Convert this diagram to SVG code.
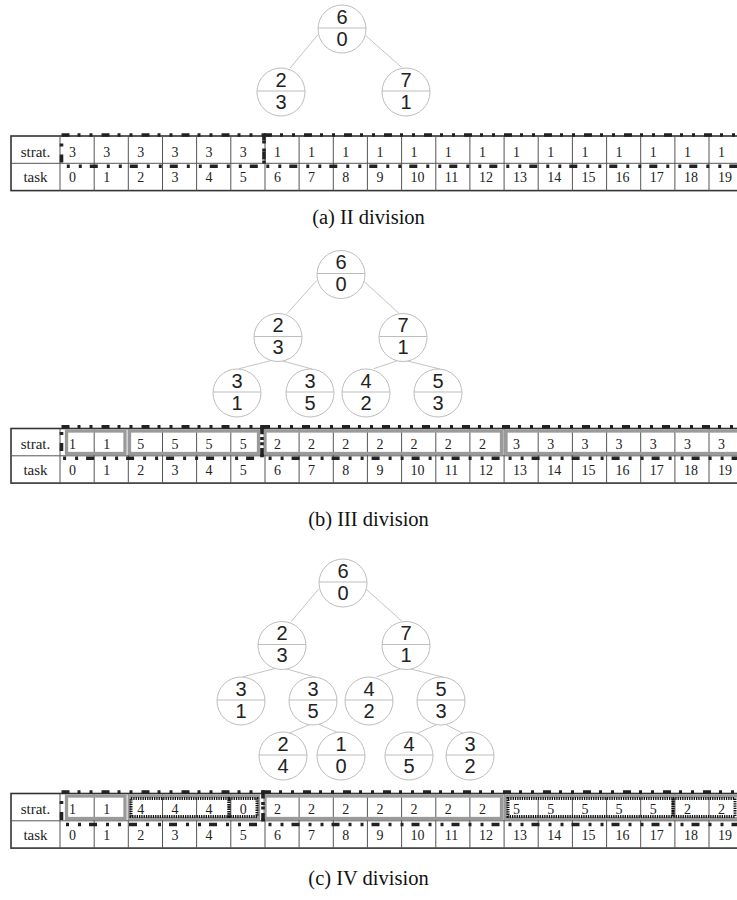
<svg xmlns="http://www.w3.org/2000/svg" xmlns:xlink="http://www.w3.org/1999/xlink" width="737" height="900" viewBox="0 0 737 900">
<style>
.nd circle{fill:#fff;stroke:#bdbdbd;stroke-width:1}
.nd line{stroke:#bdbdbd;stroke-width:1}
.nd text{font-family:"Liberation Sans",Arial,sans-serif;font-size:20px;fill:#222;text-anchor:middle}
.edges line{stroke:#c4c4c4;stroke-width:1}
.tb{fill:#fff;stroke:#333;stroke-width:1.6}
.tl{fill:none;stroke:#555;stroke-width:1}
.lb{font-family:"Liberation Serif","Times New Roman",serif;font-size:15px;fill:#222;text-anchor:middle}
.nm{font-family:"Liberation Serif","Times New Roman",serif;font-size:14px;fill:#222}
.g1{fill:none;stroke:#222;stroke-width:3.6;stroke-dasharray:8 8 3 9 3 9}
.g2{fill:none;stroke:#9a9a9a;stroke-width:3.3}
.g3{fill:none;stroke:#111;stroke-width:3;stroke-dasharray:1.3 1}
.cap{font-family:"Liberation Serif","Times New Roman",serif;font-size:20.5px;fill:#111;text-anchor:middle}
</style>
<defs>
<g id="grid">
<rect class="tb" x="11" y="0" width="732.2" height="54.6"/>
<path class="tl" d="M11 27.3H743.2M60 0V54.6M94.2 0V54.6M128.3 0V54.6M162.5 0V54.6M196.6 0V54.6M230.8 0V54.6M265 0V54.6M299.1 0V54.6M333.3 0V54.6M367.4 0V54.6M401.6 0V54.6M435.8 0V54.6M469.9 0V54.6M504.1 0V54.6M538.2 0V54.6M572.4 0V54.6M606.6 0V54.6M640.7 0V54.6M674.9 0V54.6M709 0V54.6"/>
<text class="lb" x="35.5" y="20.5">strat.</text>
<text class="lb" x="35.5" y="46.3">task</text>
<g class="nm">
<text x="69" y="46.3">0</text><text x="103.2" y="46.3">1</text><text x="137.3" y="46.3">2</text><text x="171.5" y="46.3">3</text><text x="205.6" y="46.3">4</text><text x="239.8" y="46.3">5</text><text x="274" y="46.3">6</text><text x="308.1" y="46.3">7</text><text x="342.3" y="46.3">8</text><text x="376.4" y="46.3">9</text><text x="410.6" y="46.3">10</text><text x="444.8" y="46.3">11</text><text x="478.9" y="46.3">12</text><text x="513.1" y="46.3">13</text><text x="547.2" y="46.3">14</text><text x="581.4" y="46.3">15</text><text x="615.6" y="46.3">16</text><text x="649.7" y="46.3">17</text><text x="683.9" y="46.3">18</text><text x="718" y="46.3">19</text>
</g>
</g>
</defs>

<!-- ===== (a) ===== -->
<g id="edges-a" class="edges">
<line x1="317.7" y1="35" x2="290" y2="68.2"/>
<line x1="365.3" y1="35.3" x2="401.7" y2="67.5"/>
</g>
<g id="a-n60" class="nd" transform="translate(342,29)"><circle r="24"/><line x1="-24" y1="-1" x2="24" y2="-1"/><text y="-5.5">6</text><text y="16.5">0</text></g>
<g id="a-n23" class="nd" transform="translate(281,92)"><circle r="24"/><line x1="-24" y1="-1" x2="24" y2="-1"/><text y="-5.5">2</text><text y="16.5">3</text></g>
<g id="a-n71" class="nd" transform="translate(406,92)"><circle r="24"/><line x1="-24" y1="-1" x2="24" y2="-1"/><text y="-5.5">7</text><text y="16.5">1</text></g>

<g id="table-a">
<use xlink:href="#grid" href="#grid" transform="translate(0,136)"/>
<rect class="g1" x="61.5" y="135" width="202.5" height="31.3"/>
<rect class="g1" x="264" y="135" width="481" height="31.3"/>
<g class="nm">
<text x="69" y="156.5">3</text><text x="103.2" y="156.5">3</text><text x="137.3" y="156.5">3</text><text x="171.5" y="156.5">3</text><text x="205.6" y="156.5">3</text><text x="239.8" y="156.5">3</text><text x="274" y="156.5">1</text><text x="308.1" y="156.5">1</text><text x="342.3" y="156.5">1</text><text x="376.4" y="156.5">1</text><text x="410.6" y="156.5">1</text><text x="444.8" y="156.5">1</text><text x="478.9" y="156.5">1</text><text x="513.1" y="156.5">1</text><text x="547.2" y="156.5">1</text><text x="581.4" y="156.5">1</text><text x="615.6" y="156.5">1</text><text x="649.7" y="156.5">1</text><text x="683.9" y="156.5">1</text><text x="718" y="156.5">1</text>
</g>
</g>
<text class="cap" x="368.5" y="224">(a)  II division</text>

<!-- ===== (b) ===== -->
<g id="edges-b" class="edges">
<line x1="316.7" y1="280.5" x2="287" y2="313.7"/>
<line x1="363.3" y1="280.8" x2="398.7" y2="313"/>
<line x1="272" y1="360.3" x2="239" y2="368.7"/>
<line x1="280" y1="360.3" x2="312" y2="369"/>
<line x1="398.7" y1="360.3" x2="373.7" y2="368.7"/>
<line x1="404.7" y1="360.3" x2="440" y2="369"/>
</g>
<g id="b-n60" class="nd" transform="translate(341,274.5)"><circle r="24"/><line x1="-24" y1="-1" x2="24" y2="-1"/><text y="-5.5">6</text><text y="16.5">0</text></g>
<g id="b-n23" class="nd" transform="translate(278,337.5)"><circle r="24"/><line x1="-24" y1="-1" x2="24" y2="-1"/><text y="-5.5">2</text><text y="16.5">3</text></g>
<g id="b-n71" class="nd" transform="translate(403,337.5)"><circle r="24"/><line x1="-24" y1="-1" x2="24" y2="-1"/><text y="-5.5">7</text><text y="16.5">1</text></g>
<g id="b-n31" class="nd" transform="translate(237,393)"><circle r="24"/><line x1="-24" y1="-1" x2="24" y2="-1"/><text y="-5.5">3</text><text y="16.5">1</text></g>
<g id="b-n35" class="nd" transform="translate(310,393)"><circle r="24"/><line x1="-24" y1="-1" x2="24" y2="-1"/><text y="-5.5">3</text><text y="16.5">5</text></g>
<g id="b-n42" class="nd" transform="translate(366,393)"><circle r="24"/><line x1="-24" y1="-1" x2="24" y2="-1"/><text y="-5.5">4</text><text y="16.5">2</text></g>
<g id="b-n53" class="nd" transform="translate(438,393)"><circle r="24"/><line x1="-24" y1="-1" x2="24" y2="-1"/><text y="-5.5">5</text><text y="16.5">3</text></g>

<g id="table-b">
<use xlink:href="#grid" href="#grid" transform="translate(0,428.5)"/>
<rect class="g2" x="66.5" y="431" width="58.5" height="22.5"/>
<rect class="g2" x="129.5" y="431" width="129" height="22.5"/>
<rect class="g2" x="265" y="431" width="236.5" height="22.5"/>
<rect class="g2" x="506" y="431" width="239" height="22.5"/>
<rect class="g1" x="61.5" y="426.7" width="200.5" height="31.6"/>
<rect class="g1" x="262" y="426.7" width="483" height="31.6"/>
<g class="nm">
<text x="69" y="449">1</text><text x="103.2" y="449">1</text><text x="137.3" y="449">5</text><text x="171.5" y="449">5</text><text x="205.6" y="449">5</text><text x="239.8" y="449">5</text><text x="274" y="449">2</text><text x="308.1" y="449">2</text><text x="342.3" y="449">2</text><text x="376.4" y="449">2</text><text x="410.6" y="449">2</text><text x="444.8" y="449">2</text><text x="478.9" y="449">2</text><text x="513.1" y="449">3</text><text x="547.2" y="449">3</text><text x="581.4" y="449">3</text><text x="615.6" y="449">3</text><text x="649.7" y="449">3</text><text x="683.9" y="449">3</text><text x="718" y="449">3</text>
</g>
</g>
<text class="cap" x="368.5" y="526">(b)  III division</text>

<!-- ===== (c) ===== -->
<g id="edges-c" class="edges">
<line x1="318.7" y1="589" x2="291" y2="621.7"/>
<line x1="366.3" y1="589.3" x2="401.7" y2="621"/>
<line x1="276" y1="668.3" x2="243" y2="676.7"/>
<line x1="284" y1="668.3" x2="315" y2="677"/>
<line x1="401.7" y1="668.3" x2="376.7" y2="676.7"/>
<line x1="407.7" y1="668.3" x2="443" y2="677"/>
<line x1="311" y1="724" x2="287" y2="734"/>
<line x1="318" y1="724" x2="341" y2="734"/>
<line x1="438" y1="724" x2="415.7" y2="734"/>
<line x1="445" y1="724" x2="464" y2="734"/>
</g>
<g id="c-n60" class="nd" transform="translate(343,583)"><circle r="24"/><line x1="-24" y1="-1" x2="24" y2="-1"/><text y="-5.5">6</text><text y="16.5">0</text></g>
<g id="c-n23" class="nd" transform="translate(282,645.5)"><circle r="24"/><line x1="-24" y1="-1" x2="24" y2="-1"/><text y="-5.5">2</text><text y="16.5">3</text></g>
<g id="c-n71" class="nd" transform="translate(406,645.5)"><circle r="24"/><line x1="-24" y1="-1" x2="24" y2="-1"/><text y="-5.5">7</text><text y="16.5">1</text></g>
<g id="c-n31" class="nd" transform="translate(241,701)"><circle r="24"/><line x1="-24" y1="-1" x2="24" y2="-1"/><text y="-5.5">3</text><text y="16.5">1</text></g>
<g id="c-n35" class="nd" transform="translate(313,701)"><circle r="24"/><line x1="-24" y1="-1" x2="24" y2="-1"/><text y="-5.5">3</text><text y="16.5">5</text></g>
<g id="c-n42" class="nd" transform="translate(369,701)"><circle r="24"/><line x1="-24" y1="-1" x2="24" y2="-1"/><text y="-5.5">4</text><text y="16.5">2</text></g>
<g id="c-n53" class="nd" transform="translate(441,701)"><circle r="24"/><line x1="-24" y1="-1" x2="24" y2="-1"/><text y="-5.5">5</text><text y="16.5">3</text></g>
<g id="c-n24" class="nd" transform="translate(283,756)"><circle r="24"/><line x1="-24" y1="-1" x2="24" y2="-1"/><text y="-5.5">2</text><text y="16.5">4</text></g>
<g id="c-n10" class="nd" transform="translate(341,756)"><circle r="24"/><line x1="-24" y1="-1" x2="24" y2="-1"/><text y="-5.5">1</text><text y="16.5">0</text></g>
<g id="c-n45" class="nd" transform="translate(409,756)"><circle r="24"/><line x1="-24" y1="-1" x2="24" y2="-1"/><text y="-5.5">4</text><text y="16.5">5</text></g>
<g id="c-n32" class="nd" transform="translate(470,756)"><circle r="24"/><line x1="-24" y1="-1" x2="24" y2="-1"/><text y="-5.5">3</text><text y="16.5">2</text></g>

<g id="table-c">
<use xlink:href="#grid" href="#grid" transform="translate(0,793.5)"/>
<rect class="g2" x="66.5" y="796" width="58.5" height="22.5"/>
<rect class="g2" x="129.5" y="796" width="129" height="22.5"/>
<rect class="g2" x="265" y="796" width="236.5" height="22.5"/>
<rect class="g2" x="506" y="796" width="239" height="22.5"/>
<rect class="g3" x="131" y="798.5" width="98" height="18"/>
<rect class="g3" x="229" y="798.5" width="28" height="18"/>
<rect class="g3" x="508" y="798.5" width="165" height="18"/>
<rect class="g3" x="673" y="798.5" width="62" height="18"/>
<rect class="g1" x="61.5" y="792" width="201.5" height="32.5"/>
<rect class="g1" x="263" y="792" width="482" height="32.5"/>
<g class="nm">
<text x="69" y="814">1</text><text x="103.2" y="814">1</text><text x="137.3" y="814">4</text><text x="171.5" y="814">4</text><text x="205.6" y="814">4</text><text x="239.8" y="814">0</text><text x="274" y="814">2</text><text x="308.1" y="814">2</text><text x="342.3" y="814">2</text><text x="376.4" y="814">2</text><text x="410.6" y="814">2</text><text x="444.8" y="814">2</text><text x="478.9" y="814">2</text><text x="513.1" y="814">5</text><text x="547.2" y="814">5</text><text x="581.4" y="814">5</text><text x="615.6" y="814">5</text><text x="649.7" y="814">5</text><text x="683.9" y="814">2</text><text x="718" y="814">2</text>
</g>
</g>
<text class="cap" x="368.5" y="885">(c)  IV division</text>
</svg>
